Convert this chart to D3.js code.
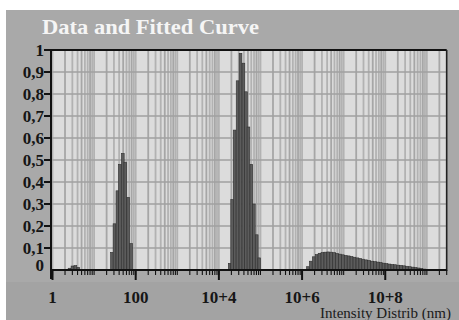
<!DOCTYPE html>
<html><head><meta charset="utf-8">
<script src="https://cdn.jsdelivr.net/npm/d3@7"></script>
<style>html,body{margin:0;padding:0;background:#fff;}svg{display:block;}
.ser{font-family:"Liberation Serif";}
.bold{font-weight:bold;}</style>
</head><body>
<svg id="chart" width="459" height="320"></svg>
<script>
// ---- data (log10 of size in nm, intensity) ----
const peak1Log = [0.41, 0.48, 0.55, 0.62];
const peak1Val = [0.008, 0.018, 0.02, 0.012];
const peak2Log = [1.43, 1.49, 1.56, 1.62, 1.69, 1.75, 1.82, 1.89];
const peak2Val = [0.08, 0.21, 0.36, 0.48, 0.53, 0.49, 0.33, 0.12];
const peak3Log = [4.26, 4.32, 4.38, 4.45, 4.52, 4.59, 4.65, 4.71, 4.78, 4.84, 4.91, 4.97];
const peak3Val = [0.03, 0.32, 0.636, 0.86, 0.985, 0.94, 0.81, 0.65, 0.48, 0.30, 0.16, 0.055];
const bumpLog = [6.14, 6.21, 6.28, 6.35, 6.42, 6.49, 6.56, 6.63, 6.70, 6.77, 6.84, 6.91, 6.98, 7.05,
  7.12, 7.19, 7.26, 7.33, 7.40, 7.47, 7.54, 7.61, 7.68, 7.75, 7.82, 7.89, 7.96, 8.03, 8.10, 8.17,
  8.24, 8.31, 8.38, 8.45, 8.52, 8.59, 8.66, 8.73, 8.80, 8.87, 8.94];
const bumpVal = [0.015, 0.040, 0.060, 0.070, 0.076, 0.079, 0.081, 0.082, 0.081, 0.079, 0.075, 0.072,
  0.069, 0.066, 0.064, 0.061, 0.058, 0.055, 0.052, 0.049, 0.046, 0.043, 0.040, 0.038, 0.036, 0.034,
  0.031, 0.029, 0.027, 0.025, 0.024, 0.022, 0.021, 0.019, 0.017, 0.015, 0.013, 0.011, 0.009, 0.007, 0.004];
const yTicks = [0, 0.1, 0.2, 0.3, 0.4, 0.5, 0.6, 0.7, 0.8, 0.9, 1];
const yTickLabels = ["0", "0,1", "0,2", "0,3", "0,4", "0,5", "0,6", "0,7", "0,8", "0,9", "1"];
const xMajor = [1, 100, 1e4, 1e6, 1e8];
const xMajorLabels = ["1", "100", "10+4", "10+6", "10+8"];
const binHalf = 0.033; // half bin width in decades

const svg = d3.select("#chart");
const W = 459, H = 320;

// backgrounds
svg.append("rect").attr("width", W).attr("height", H).attr("fill", "#fff");
svg.append("rect").attr("x", 6).attr("y", 10).attr("width", W - 6).attr("height", H - 10).attr("fill", "#a9a9a9");
svg.append("rect").attr("x", 6).attr("y", 282).attr("width", W - 6).attr("height", H - 282).attr("fill", "#a3a3a3");

const x = d3.scaleLog().domain([0.9, 3e9]).range([50.6, 446.7]);
const y = d3.scaleLinear().domain([0, 1]).range([270, 50]);
const [x0, x1] = x.range();

// plot background
svg.append("rect").attr("x", x0).attr("y", y(1)).attr("width", x1 - x0).attr("height", y(0) - y(1)).attr("fill", "#dcdcdc");

// vertical log grid
const gridVals = [];
for (let e = 0; e <= 9; e++) for (let k = 1; k <= 9; k++) { const v = k * Math.pow(10, e); if (v >= 0.9 && v <= 3e9) gridVals.push(v); }
svg.append("g").selectAll("line").data(gridVals).join("line")
  .attr("x1", d => x(d)).attr("x2", d => x(d)).attr("y1", y(1)).attr("y2", y(0))
  .attr("stroke", (d, i) => (i % 3 === 1 ? "#a6a6a6" : "#b2b2b2")).attr("stroke-width", 1.8);

// horizontal grid
svg.append("g").selectAll("line").data(yTicks.slice(1, -1)).join("line")
  .attr("x1", x0).attr("x2", x1).attr("y1", d => y(d)).attr("y2", d => y(d))
  .attr("stroke", "#a0a0a0").attr("stroke-width", 1.7);

// bars
function drawBars(logs, vals) {
  const data = logs.map((l, i) => ({ l, v: vals[i] }));
  svg.append("g").selectAll("rect").data(data).join("rect")
    .attr("x", d => x(Math.pow(10, d.l - binHalf)))
    .attr("width", d => x(Math.pow(10, d.l + binHalf)) - x(Math.pow(10, d.l - binHalf)))
    .attr("y", d => y(d.v))
    .attr("height", d => y(0) - y(d.v))
    .attr("fill", "#5c5c5c").attr("stroke", "#2e2e2e").attr("stroke-width", 0.6);
}
drawBars(peak1Log, peak1Val);
drawBars(peak2Log, peak2Val);
drawBars(peak3Log, peak3Val);
drawBars(bumpLog, bumpVal);

// frame
svg.append("line").attr("x1", x0).attr("x2", x1).attr("y1", y(1)).attr("y2", y(1)).attr("stroke", "#111").attr("stroke-width", 2);
svg.append("line").attr("x1", x1).attr("x2", x1).attr("y1", y(1)).attr("y2", y(0) + 1).attr("stroke", "#222").attr("stroke-width", 1.6);
// axes lines
svg.append("line").attr("x1", x0).attr("x2", x1).attr("y1", y(0)).attr("y2", y(0)).attr("stroke", "#111").attr("stroke-width", 2);
svg.append("line").attr("x1", 51).attr("x2", 51).attr("y1", y(1)).attr("y2", 279).attr("stroke", "#111").attr("stroke-width", 2);

// y ticks
svg.append("g").selectAll("line").data(yTicks.slice(1)).join("line")
  .attr("x1", 44).attr("x2", 51).attr("y1", d => y(d)).attr("y2", d => y(d))
  .attr("stroke", "#111").attr("stroke-width", 2);
svg.append("g").selectAll("text").data(yTicks).join("text")
  .attr("class", "ser bold")
  .attr("x", 44).attr("y", d => y(d) + (d === 0 ? 1 : 5.5))
  .attr("text-anchor", "end")
  .attr("font-size", 17).attr("fill", "#161616")
  .text((d, i) => yTickLabels[i]);

// x minor ticks
svg.append("g").selectAll("line").data(gridVals).join("line")
  .attr("x1", d => x(d)).attr("x2", d => x(d)).attr("y1", y(0)).attr("y2", y(0) + 5)
  .attr("stroke", "#111").attr("stroke-width", 1.1);
svg.append("g").selectAll("line").data(xMajor).join("line")
  .attr("x1", d => x(d)).attr("x2", d => x(d)).attr("y1", y(0)).attr("y2", y(0) + 10)
  .attr("stroke", "#111").attr("stroke-width", 2);
svg.append("g").selectAll("text").data(xMajor).join("text")
  .attr("class", "ser bold")
  .attr("x", d => x(d)).attr("y", 303)
  .attr("text-anchor", "middle")
  .attr("font-size", 17).attr("fill", "#161616")
  .text((d, i) => xMajorLabels[i]);

// title
svg.append("text").attr("class", "ser bold").attr("x", 42).attr("y", 34)
  .attr("font-size", 21).attr("fill", "#f5f5f5")
  .attr("textLength", 217).attr("lengthAdjust", "spacingAndGlyphs")
  .text("Data and Fitted Curve");
// axis title
svg.append("text").attr("class", "ser").attr("x", 320).attr("y", 318)
  .attr("font-size", 14).attr("fill", "#1a1a1a").attr("textLength", 131).attr("lengthAdjust", "spacingAndGlyphs")
  .text("Intensity Distrib (nm)");
</script>
</body></html>
